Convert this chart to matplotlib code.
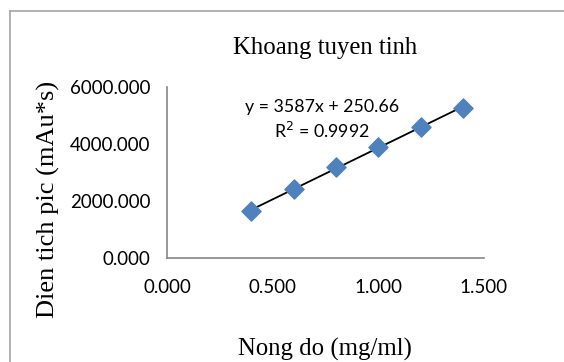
import matplotlib.pyplot as plt
import numpy as np
from matplotlib.lines import Line2D

conc = [0.4, 0.6, 0.8, 1.0, 1.2, 1.4]
area = [1640, 2430, 3190, 3900, 4600, 5250]
x_ticks = [0.0, 0.5, 1.0, 1.5]
y_ticks = [0, 2000, 4000, 6000]

fig = plt.figure(figsize=(5.64, 3.62), dpi=100)
ax = fig.add_axes([0.296, 0.287, 0.562, 0.473])

# frame of the chart area, cut at the right and bottom
fx, fy = 9.5 / 564, 1 - 10.5 / 362
fig.lines.append(Line2D([fx, fx], [0, fy], transform=fig.transFigure,
                        color="#a6a6a6", lw=1.2))
fig.lines.append(Line2D([fx, 1], [fy, fy], transform=fig.transFigure,
                        color="#a6a6a6", lw=1.2))

slope, icpt = np.polyfit(conc, area, 1)
xs = np.array([conc[0], conc[-1]])
ax.plot(xs, slope * xs + icpt, color="black", lw=1.3, zorder=2)
ax.scatter(conc, area, marker="D", s=95, color="#4f81bd", zorder=3)

ax.set_xlim(0, 1.5)
ax.set_ylim(0, 6000)
ax.set_xticks(x_ticks)
ax.set_yticks(y_ticks)
ax.set_xticklabels([f"{v:.3f}" for v in x_ticks], family="Lato", fontsize=13.5)
ax.set_yticklabels([f"{v:.3f}" for v in y_ticks], family="Lato", fontsize=13.5)
ax.tick_params(axis="y", length=0, pad=12)
ax.tick_params(axis="x", length=0, pad=15)

for s in ["top", "right"]:
    ax.spines[s].set_visible(False)
for s in ["left", "bottom"]:
    ax.spines[s].set_color("#868686")
    ax.spines[s].set_linewidth(1.2)

ax.set_title("Khoang tuyen tinh", family="Liberation Serif", fontsize=17.8, pad=24)
ax.set_xlabel("Nong do (mg/ml)", family="Liberation Serif", fontsize=17.8, labelpad=30)
ax.set_ylabel("Dien tich pic (mAu*s)", family="Liberation Serif", fontsize=19,
              va="center")
ax.yaxis.set_label_coords(-0.375, 0.345)

ax.text(0.735, 4830, "y = 3587x + 250.66\nR$^2$ = 0.9992", ha="center", va="center",
        family="Lato", fontsize=12.8, linespacing=1.35)

fig.savefig("out.png", dpi=100)
